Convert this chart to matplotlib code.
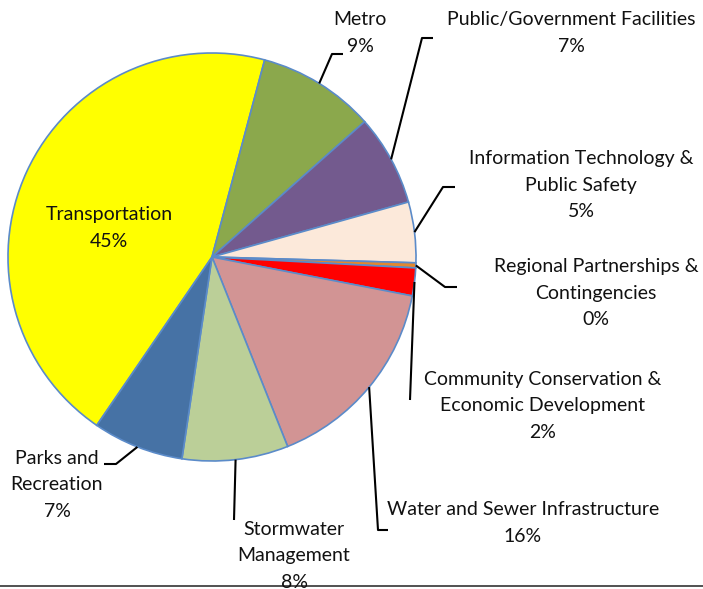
import numpy as np
import matplotlib.pyplot as plt

# capital budget shares by program area (percent)
categories = ['Transportation', 'Metro', 'Public/Government Facilities',
              'Information Technology &\nPublic Safety',
              'Regional Partnerships &\nContingencies',
              'Community Conservation &\nEconomic Development',
              'Water and Sewer Infrastructure',
              'Stormwater\nManagement', 'Parks and\nRecreation']
shares = [44.6, 9.3, 7.2, 4.8, 0.4, 2.2, 15.9, 8.4, 7.2]
colors = ['#FFFF00', '#8BA84C', '#735A8E', '#FCE9DA', '#E3872E',
          '#FF0000', '#D29494', '#BBCF98', '#4672A5']

W, H = 703, 589
fig = plt.figure(figsize=(W / 100, H / 100), dpi=100)
ax = fig.add_axes([0, 0, 1, 1])

plt.rcParams['font.family'] = ['Lato', 'DejaVu Sans']

cx, cy, r = 212, H - 257, 204
wedges, _ = ax.pie(shares, colors=colors, startangle=235.6, counterclock=False,
                   center=(cx, cy), radius=r, frame=True,
                   wedgeprops=dict(edgecolor='#5B8BC9', linewidth=1.2))
ax.set_xlim(0, W)
ax.set_ylim(0, H)
ax.axis('off')

# label text position and leader path (elbow, end) in pixel coords
label_pos = [(109, 228), (360, 33), (571, 33), (581, 185), (596, 293),
             (543, 406), (523, 523), (294, 556), (57, 485)]
leaders = [None,
           [(332, 54), (343, 54)],
           [(422, 38), (433, 38)],
           [(443, 187), (455, 187)],
           [(445, 287), (457, 287)],
           [(410, 400), (410, 400)],
           [(378, 530), (388, 530)],
           [(234, 520), (234, 520)],
           [(116, 464), (104, 464)]]

fs = 14
for w, name, pct, pos, path in zip(wedges, categories, shares, label_pos, leaders):
    text = f'{name}\n{round(pct):.0f}%'
    if path is not None:
        mid = np.deg2rad((w.theta1 + w.theta2) / 2)
        start = (cx + r * np.cos(mid), cy + r * np.sin(mid))
        xs = [start[0]] + [p[0] for p in path]
        ys = [start[1]] + [H - p[1] for p in path]
        ax.plot(xs, ys, color='black', lw=1.5, solid_capstyle='butt')
    ax.text(pos[0], H - pos[1], text, ha='center', va='center', fontsize=fs,
            linespacing=1.68, color='#111111')

# rule along the bottom edge
ax.plot([0, W], [H - 586, H - 586], color='#333333', lw=1.2)

fig.savefig('out.png', dpi=100)
